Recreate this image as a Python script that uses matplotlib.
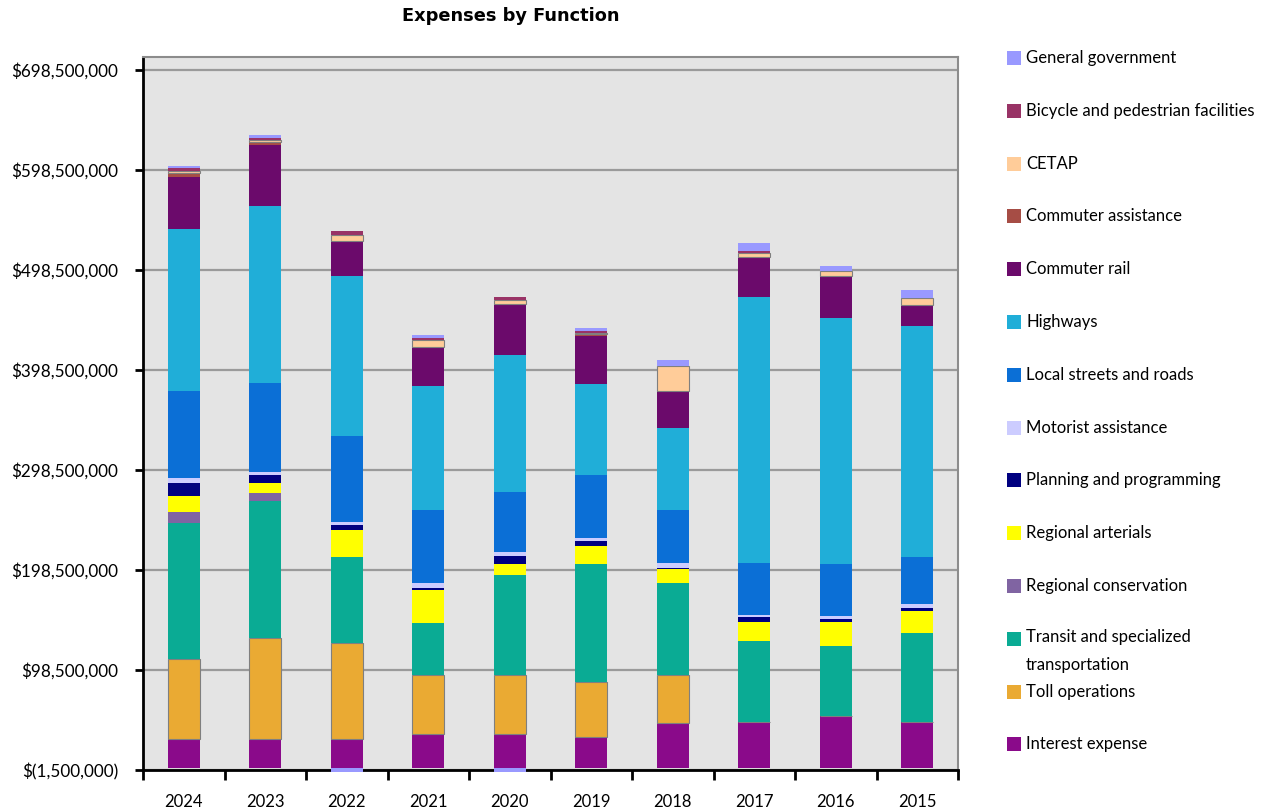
import numpy as np
import matplotlib
matplotlib.use("Agg")
import matplotlib.pyplot as plt
from matplotlib.patches import Rectangle
from matplotlib.ticker import FuncFormatter, FixedLocator

# fiscal years, left to right
years = ["2024", "2023", "2022", "2021", "2020", "2019", "2018", "2017", "2016", "2015"]

# expenses in millions of dollars, one list per function (bottom of stack first)
interest = [29.2, 29.2, 29.2, 34.5, 34.5, 31.8, 45.2, 46.8, 52.5, 46.8]
toll = [80.3, 101.0, 96.3, 59.3, 59.3, 54.4, 48.6, 0.0, 0.0, 0.0]
transit = [136.3, 137.0, 86.3, 52.0, 99.7, 118.3, 91.4, 80.7, 70.0, 88.4]
reg_conservation = [10.4, 8.0, 0.0, 0.0, 0.0, 0.0, 0.0, 0.0, 0.0, 0.0]
reg_arterials = [16.3, 10.0, 26.7, 32.7, 10.7, 18.0, 14.0, 19.3, 24.3, 22.3]
planning = [12.7, 8.3, 5.0, 2.3, 8.3, 5.0, 1.6, 5.0, 2.7, 2.7]
motorist = [5.0, 2.5, 2.7, 5.0, 4.3, 2.7, 4.4, 1.7, 3.0, 4.0]
local_streets = [87.3, 89.0, 86.3, 72.7, 60.0, 62.6, 53.3, 52.3, 51.7, 47.0]
highways = [162.0, 177.6, 160.0, 123.3, 136.7, 91.7, 81.7, 265.4, 246.0, 231.3]
commuter_rail = [51.3, 60.9, 34.5, 39.4, 50.0, 47.3, 36.6, 39.0, 41.6, 20.0]
commuter_assist = [4.7, 2.7, 0.5, 0.5, 0.8, 2.0, 0.0, 1.0, 0.0, 1.0]
cetap = [1.3, 2.0, 6.0, 6.0, 4.0, 1.5, 25.7, 3.5, 5.0, 7.0]
bicycle = [3.0, 2.0, 3.3, 2.0, 2.7, 2.0, 0.0, 2.7, 0.0, 0.0]
general_gov = [2.0, 2.7, -3.0, 3.7, -3.0, 3.3, 6.0, 8.0, 5.7, 8.0]

series = [
    ("Interest expense", interest, "#8A0A8A"),
    ("Toll operations", toll, "#EAAA33"),
    ("Transit and specialized\ntransportation", transit, "#0AAB94"),
    ("Regional conservation", reg_conservation, "#8064A2"),
    ("Regional arterials", reg_arterials, "#FFFF00"),
    ("Planning and programming", planning, "#000080"),
    ("Motorist assistance", motorist, "#CCCCFF"),
    ("Local streets and roads", local_streets, "#0B6FD6"),
    ("Highways", highways, "#20AED8"),
    ("Commuter rail", commuter_rail, "#6B0A6B"),
    ("Commuter assistance", commuter_assist, "#A64D45"),
    ("CETAP", cetap, "#FFCC99"),
    ("Bicycle and pedestrian facilities", bicycle, "#993366"),
    ("General government", general_gov, "#9999FF"),
]

W, H = 1265, 811
fig = plt.figure(figsize=(W / 100, H / 100), dpi=100)
ax = fig.add_axes([143 / W, 1 - 770 / H, (958 - 143) / W, (770 - 57) / H])
ax.set_facecolor("#E4E4E4")

x = np.arange(len(years))
pos_bottom = np.zeros(len(years))
neg_bottom = np.zeros(len(years))
for name, vals, color in series:
    v = np.array(vals, dtype=float)
    bottom = np.where(v >= 0, pos_bottom, neg_bottom)
    edge = "#7F7F7F" if name in ("Toll operations", "CETAP") else "none"
    ax.bar(x, v, width=0.39, bottom=bottom, color=color, edgecolor=edge,
           linewidth=0.8, zorder=3, clip_on=False)
    pos_bottom += np.where(v >= 0, v, 0)
    neg_bottom += np.where(v < 0, v, 0)

ax.set_xlim(-0.5, len(years) - 0.5)
ax.set_ylim(-1.5, 711)

yticks = np.arange(-1.5, 700, 100)
ax.yaxis.set_major_locator(FixedLocator(yticks))


def dollars(v, pos):
    d = int(round(v * 1e6))
    return f"${d:,}" if d >= 0 else f"$({-d:,})"


ax.yaxis.set_major_formatter(FuncFormatter(dollars))
ax.grid(axis="y", color="#9A9A9A", linewidth=1.6, zorder=1)
ax.set_axisbelow(True)

# category boundaries get the tick marks, year labels sit under the bars
ax.xaxis.set_major_locator(FixedLocator(np.arange(-0.5, len(years), 1.0)))
ax.xaxis.set_major_formatter(FuncFormatter(lambda v, p: ""))
ax.set_xticks(x, minor=True)
ax.set_xticklabels(years, minor=True)
ax.tick_params(axis="x", which="major", direction="out", length=7, width=2, color="black")
ax.tick_params(axis="x", which="minor", length=0, pad=17, labelsize=12)
ax.tick_params(axis="y", direction="out", length=6, width=2, color="black", labelsize=12.3, pad=12)
for lab in ax.get_xticklabels(minor=True) + ax.get_yticklabels():
    lab.set_fontfamily(["Lato", "DejaVu Sans"])

for side in ("left", "bottom"):
    ax.spines[side].set_color("black")
    ax.spines[side].set_linewidth(2)
for side in ("top", "right"):
    ax.spines[side].set_color("#8C8C8C")
    ax.spines[side].set_linewidth(1.5)

fig.text(511 / W, 1 - 16 / H, "Expenses by Function", ha="center", va="center",
         fontsize=12.8, fontweight="bold", family=["DejaVu Sans"])

# legend, top entry first
legend_font = ["Lato", "DejaVu Sans"]
for i, (name, vals, color) in enumerate(series[::-1]):
    yc = 58 + i * 52.8
    fig.patches.append(Rectangle((1007 / W, 1 - (yc + 7) / H), 14 / W, 14 / H,
                                 transform=fig.transFigure, facecolor=color,
                                 edgecolor="none"))
    if "\n" in name:
        fig.text(1026 / W, 1 - (yc - 10) / H, name, ha="left", va="top",
                 fontsize=12, linespacing=1.95, family=legend_font)
    else:
        fig.text(1026 / W, 1 - yc / H, name, ha="left", va="center",
                 fontsize=12, family=legend_font)

fig.savefig("out.png", dpi=100)
